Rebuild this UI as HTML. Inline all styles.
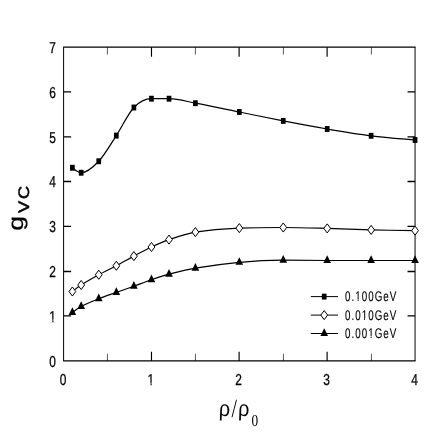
<!DOCTYPE html>
<html><head><meta charset="utf-8"><title>chart</title>
<style>
html,body{margin:0;padding:0;background:#fff;}
body{width:436px;height:436px;overflow:hidden;font-family:"Liberation Sans",sans-serif;}
#wrap{position:absolute;left:0;top:0;width:436px;height:436px;will-change:transform;}
svg{display:block;position:absolute;left:0;top:0;}
svg text{font-family:"Liberation Sans",sans-serif;fill:#000;text-rendering:geometricPrecision;}
svg text.tk{stroke:#000;stroke-width:0.3px;}
svg text.yt{stroke:#000;stroke-width:0.25px;}
svg text.yt2{stroke:#000;stroke-width:0.5px;}
svg text.lg{stroke:#000;stroke-width:0.15px;}
</style></head><body>
<div id="wrap">
<svg width="436" height="436" viewBox="0 0 436 436">
<g stroke="#000" stroke-width="1.00" fill="none" stroke-linecap="butt">
<path stroke-width="1.30" d="M63.10 47.20 H415.55 M63.10 360.90 H415.55"/>
<path stroke-width="1.00" d="M63.60 47.20 V360.90 M415.05 47.20 V360.90"/>
<path stroke-width="0.65" d="M107.42 360.90 v-7.10 M107.42 47.20 v7.30"/>
<path stroke-width="1.15" d="M151.49 360.90 v-9.10 M151.49 47.20 v9.50"/>
<path stroke-width="0.65" d="M195.42 360.90 v-7.10 M195.42 47.20 v7.30"/>
<path stroke-width="1.15" d="M239.10 360.90 v-9.10 M239.10 47.20 v9.50"/>
<path stroke-width="0.65" d="M283.42 360.90 v-7.10 M283.42 47.20 v7.30"/>
<path stroke-width="1.15" d="M327.10 360.90 v-9.10 M327.10 47.20 v9.50"/>
<path stroke-width="0.65" d="M371.42 360.90 v-7.10 M371.42 47.20 v7.30"/>
<path stroke-width="1.30" d="M63.60 315.95 h7.50 M415.05 315.95 h-7.50"/>
<path stroke-width="1.30" d="M63.60 271.50 h7.50 M415.05 271.50 h-7.50"/>
<path stroke-width="1.30" d="M63.60 226.45 h7.50 M415.05 226.45 h-7.50"/>
<path stroke-width="1.30" d="M63.60 181.50 h7.50 M415.05 181.50 h-7.50"/>
<path stroke-width="1.30" d="M63.60 136.95 h7.50 M415.05 136.95 h-7.50"/>
<path stroke-width="1.30" d="M63.60 91.95 h7.50 M415.05 91.95 h-7.50"/>
</g>
<path d="M72.39 167.75 C75.31 170.25 78.24 172.75 81.17 172.75 C87.03 172.75 92.89 167.44 98.75 161.25 C104.60 155.06 110.46 144.56 116.32 135.60 C122.17 126.64 128.03 113.65 133.89 107.50 C139.75 101.35 145.61 98.70 151.46 98.70 C157.32 98.70 163.18 98.70 169.03 98.70 C177.82 98.70 186.61 101.54 195.39 103.20 C210.04 105.97 224.68 109.05 239.32 112.00 C253.97 114.95 268.61 118.07 283.26 120.90 C297.90 123.73 312.54 126.52 327.19 129.00 C341.83 131.48 356.48 133.97 371.12 135.80 C385.76 137.63 400.41 138.71 415.05 140.00" stroke="#000" stroke-width="1.20" fill="none"/>
<path d="M72.39 291.50 C75.31 289.18 78.24 286.86 81.17 285.00 C87.03 281.28 92.89 277.96 98.75 274.75 C104.60 271.54 110.46 268.86 116.32 265.75 C122.17 262.64 128.03 259.23 133.89 256.10 C139.75 252.98 145.61 249.75 151.46 247.00 C157.32 244.25 163.18 241.59 169.03 239.60 C177.82 236.62 186.61 233.54 195.39 232.10 C210.04 229.70 224.68 228.70 239.32 228.10 C253.97 227.50 268.61 227.50 283.26 227.50 C297.90 227.50 312.54 228.00 327.19 228.40 C341.83 228.80 356.48 229.53 371.12 229.90 C385.76 230.27 400.41 230.40 415.05 230.60" stroke="#000" stroke-width="1.20" fill="none"/>
<path d="M72.39 312.45 C75.31 310.21 78.24 307.98 81.17 306.45 C87.03 303.39 92.89 301.03 98.75 298.70 C104.60 296.37 110.46 294.53 116.32 292.45 C122.17 290.37 128.03 288.32 133.89 286.20 C139.75 284.07 145.61 281.70 151.46 279.70 C157.32 277.70 163.18 275.75 169.03 274.20 C177.82 271.88 186.61 269.59 195.39 268.10 C210.04 265.62 224.68 263.62 239.32 262.30 C253.97 260.98 268.61 260.20 283.26 260.20 C297.90 260.20 312.54 260.50 327.19 260.50 C341.83 260.50 356.48 260.50 371.12 260.50 C385.76 260.50 400.41 260.50 415.05 260.50" stroke="#000" stroke-width="1.20" fill="none"/>
<rect x="70.04" y="164.80" width="4.70" height="5.90" fill="#000"/>
<rect x="78.82" y="169.80" width="4.70" height="5.90" fill="#000"/>
<rect x="96.40" y="158.30" width="4.70" height="5.90" fill="#000"/>
<rect x="113.97" y="132.65" width="4.70" height="5.90" fill="#000"/>
<rect x="131.54" y="104.55" width="4.70" height="5.90" fill="#000"/>
<rect x="149.11" y="95.75" width="4.70" height="5.90" fill="#000"/>
<rect x="166.69" y="95.75" width="4.70" height="5.90" fill="#000"/>
<rect x="193.04" y="100.25" width="4.70" height="5.90" fill="#000"/>
<rect x="236.97" y="109.05" width="4.70" height="5.90" fill="#000"/>
<rect x="280.91" y="117.95" width="4.70" height="5.90" fill="#000"/>
<rect x="324.84" y="126.05" width="4.70" height="5.90" fill="#000"/>
<rect x="368.77" y="132.85" width="4.70" height="5.90" fill="#000"/>
<rect x="412.70" y="137.05" width="4.70" height="5.90" fill="#000"/>
<path d="M72.39 286.95 L75.79 291.50 L72.39 296.05 L68.99 291.50Z" fill="#fff" stroke="#000" stroke-width="1"/>
<path d="M81.17 280.45 L84.57 285.00 L81.17 289.55 L77.77 285.00Z" fill="#fff" stroke="#000" stroke-width="1"/>
<path d="M98.75 270.20 L102.15 274.75 L98.75 279.30 L95.34 274.75Z" fill="#fff" stroke="#000" stroke-width="1"/>
<path d="M116.32 261.20 L119.72 265.75 L116.32 270.30 L112.92 265.75Z" fill="#fff" stroke="#000" stroke-width="1"/>
<path d="M133.89 251.55 L137.29 256.10 L133.89 260.65 L130.49 256.10Z" fill="#fff" stroke="#000" stroke-width="1"/>
<path d="M151.46 242.45 L154.86 247.00 L151.46 251.55 L148.06 247.00Z" fill="#fff" stroke="#000" stroke-width="1"/>
<path d="M169.03 235.05 L172.44 239.60 L169.03 244.15 L165.63 239.60Z" fill="#fff" stroke="#000" stroke-width="1"/>
<path d="M195.39 227.55 L198.79 232.10 L195.39 236.65 L191.99 232.10Z" fill="#fff" stroke="#000" stroke-width="1"/>
<path d="M239.32 223.55 L242.72 228.10 L239.32 232.65 L235.92 228.10Z" fill="#fff" stroke="#000" stroke-width="1"/>
<path d="M283.26 222.95 L286.66 227.50 L283.26 232.05 L279.86 227.50Z" fill="#fff" stroke="#000" stroke-width="1"/>
<path d="M327.19 223.85 L330.59 228.40 L327.19 232.95 L323.79 228.40Z" fill="#fff" stroke="#000" stroke-width="1"/>
<path d="M371.12 225.35 L374.52 229.90 L371.12 234.45 L367.72 229.90Z" fill="#fff" stroke="#000" stroke-width="1"/>
<path d="M415.05 226.05 L418.45 230.60 L415.05 235.15 L411.65 230.60Z" fill="#fff" stroke="#000" stroke-width="1"/>
<path d="M72.39 307.32 L76.19 315.02 L68.59 315.02Z" fill="#000"/>
<path d="M81.17 301.32 L84.97 309.02 L77.37 309.02Z" fill="#000"/>
<path d="M98.75 293.57 L102.55 301.27 L94.95 301.27Z" fill="#000"/>
<path d="M116.32 287.32 L120.12 295.02 L112.52 295.02Z" fill="#000"/>
<path d="M133.89 281.07 L137.69 288.77 L130.09 288.77Z" fill="#000"/>
<path d="M151.46 274.57 L155.26 282.27 L147.66 282.27Z" fill="#000"/>
<path d="M169.03 269.07 L172.84 276.77 L165.23 276.77Z" fill="#000"/>
<path d="M195.39 262.97 L199.19 270.67 L191.59 270.67Z" fill="#000"/>
<path d="M239.32 257.17 L243.12 264.87 L235.52 264.87Z" fill="#000"/>
<path d="M283.26 255.07 L287.06 262.77 L279.46 262.77Z" fill="#000"/>
<path d="M327.19 255.37 L330.99 263.07 L323.39 263.07Z" fill="#000"/>
<path d="M371.12 255.37 L374.92 263.07 L367.32 263.07Z" fill="#000"/>
<path d="M415.05 255.37 L418.85 263.07 L411.25 263.07Z" fill="#000"/>
<path d="M310.80 296.60 H338.00" stroke="#000" stroke-width="1.00"/>
<rect x="321.85" y="293.65" width="4.70" height="5.90" fill="#000"/>
<text class="lg" transform="translate(344.90 301.40) scale(0.70 1)" font-size="14.0" x="0.00 9.28 14.67 23.96 33.24 42.53 54.92 64.20">0.100GeV</text>
<rect x="354.92" y="299.35" width="2.70" height="3.05" fill="#fff"/><rect x="358.52" y="299.35" width="2.62" height="3.05" fill="#fff"/>
<path d="M310.80 315.10 H338.00" stroke="#000" stroke-width="1.00"/>
<path d="M324.20 310.55 L327.60 315.10 L324.20 319.65 L320.80 315.10Z" fill="#fff" stroke="#000" stroke-width="1"/>
<text class="lg" transform="translate(344.90 320.30) scale(0.70 1)" font-size="14.0" x="0.00 9.28 14.67 23.96 33.24 42.53 54.92 64.20">0.010GeV</text>
<rect x="361.42" y="318.25" width="2.70" height="3.05" fill="#fff"/><rect x="365.02" y="318.25" width="2.62" height="3.05" fill="#fff"/>
<path d="M310.80 333.50 H338.00" stroke="#000" stroke-width="1.00"/>
<path d="M324.20 328.37 L328.00 336.07 L320.40 336.07Z" fill="#000"/>
<text class="lg" transform="translate(344.90 338.00) scale(0.70 1)" font-size="14.0" x="0.00 9.28 14.67 23.96 33.24 42.53 54.92 64.20">0.001GeV</text>
<rect x="367.92" y="335.95" width="2.70" height="3.05" fill="#fff"/><rect x="371.52" y="335.95" width="2.62" height="3.05" fill="#fff"/>
<text class="tk" transform="translate(56.0 366.55) scale(0.755 1)" font-size="15.80" text-anchor="end">0</text>
<text class="tk" transform="translate(56.0 321.60) scale(0.755 1)" font-size="15.80" text-anchor="end">1</text>
<rect x="49.27" y="319.42" width="3.07" height="3.18" fill="#fff"/><rect x="53.44" y="319.42" width="2.98" height="3.18" fill="#fff"/>
<text class="tk" transform="translate(56.0 277.15) scale(0.755 1)" font-size="15.80" text-anchor="end">2</text>
<text class="tk" transform="translate(56.0 232.10) scale(0.755 1)" font-size="15.80" text-anchor="end">3</text>
<text class="tk" transform="translate(56.0 187.15) scale(0.755 1)" font-size="15.80" text-anchor="end">4</text>
<text class="tk" transform="translate(56.0 142.60) scale(0.755 1)" font-size="15.80" text-anchor="end">5</text>
<text class="tk" transform="translate(56.0 97.60) scale(0.755 1)" font-size="15.80" text-anchor="end">6</text>
<text class="tk" transform="translate(56.0 52.85) scale(0.755 1)" font-size="15.80" text-anchor="end">7</text>
<text class="tk" transform="translate(63.00 384.9) scale(0.755 1)" font-size="15.80" text-anchor="middle">0</text>
<text class="tk" transform="translate(150.89 384.9) scale(0.755 1)" font-size="15.80" text-anchor="middle">1</text>
<rect x="147.48" y="382.72" width="3.07" height="3.18" fill="#fff"/><rect x="151.65" y="382.72" width="2.98" height="3.18" fill="#fff"/>
<text class="tk" transform="translate(238.50 384.9) scale(0.755 1)" font-size="15.80" text-anchor="middle">2</text>
<text class="tk" transform="translate(326.50 384.9) scale(0.755 1)" font-size="15.80" text-anchor="middle">3</text>
<text class="tk" transform="translate(414.45 384.9) scale(0.755 1)" font-size="15.80" text-anchor="middle">4</text>
<text class="ser" transform="translate(218.7 416.4) skewX(-2) scale(0.89 1)" font-size="22" style="font-family:'Liberation Sans',sans-serif">ρ</text>
<text class="ser" transform="translate(231.6 416.6) scale(0.75 1)" font-size="26.2" style="font-family:'Liberation Serif',serif">/</text>
<text class="ser" transform="translate(238.0 416.4) skewX(-2) scale(0.89 1)" font-size="22" style="font-family:'Liberation Sans',sans-serif">ρ</text>
<text class="ser" transform="translate(251.5 425.7) scale(0.80 1)" font-size="16.7" style="font-family:'Liberation Serif',serif">0</text>
<text class="yt" transform="translate(23.3 230.8) rotate(-90) scale(1.266 1)" font-size="21.2">g</text>
<text class="yt2" transform="translate(29.15 213.1) rotate(-90) scale(1.20 1)" font-size="15.2">V</text>
<text class="yt2" transform="translate(29.15 199.0) rotate(-90) scale(1.19 1)" font-size="15.2">C</text>
</svg>
</div>
</body></html>
